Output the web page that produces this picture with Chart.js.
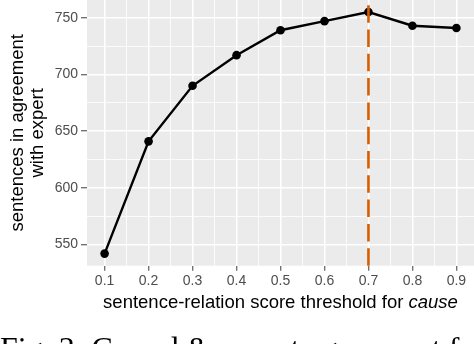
<!DOCTYPE html>
<html>
<head>
<meta charset="utf-8">
<script src="https://cdn.jsdelivr.net/npm/chart.js@4"></script>
<style>
body { margin: 0; background: #fff; }
#wrap { position: relative; width: 474px; height: 344px; }
</style>
</head>
<body>
<div id="wrap"><canvas id="lineChart"></canvas></div>
<script>
var thresholds = [0.1, 0.2, 0.3, 0.4, 0.5, 0.6, 0.7, 0.8, 0.9];
var agreement = [542, 641, 690, 717, 739, 747, 755, 743, 741];
var chosenThreshold = 0.7;

var xTicks = [0.1, 0.2, 0.3, 0.4, 0.5, 0.6, 0.7, 0.8, 0.9];
var xTickLabels = ['0.1', '0.2', '0.3', '0.4', '0.5', '0.6', '0.7', '0.8', '0.9'];
var xMinorTicks = [0.15, 0.25, 0.35, 0.45, 0.55, 0.65, 0.75, 0.85];
var yTicks = [550, 600, 650, 700, 750];
var yTickLabels = ['550', '600', '650', '700', '750'];
var yMinorTicks = [575, 625, 675, 725];

var yTitle = ['sentences in agreement', 'with expert'];
var xTitle = 'sentence-relation score threshold for ';
var xTitleItalic = 'cause';
var caption = 'Fig. 3: Crowd & expert agreement for cause relation';

var FONT = "'Liberation Sans', Arial, sans-serif";

// ggplot style 5% expansion of the data range
var xLo = Math.min.apply(null, thresholds), xHi = Math.max.apply(null, thresholds);
var yLo = Math.min.apply(null, agreement), yHi = Math.max.apply(null, agreement);
var xPad = (xHi - xLo) * 0.05, yPad = (yHi - yLo) * 0.05;

function isMajor(list, v) {
    return list.some(function (m) { return Math.abs(m - v) < 1e-6; });
}
function labelFor(list, labels, v) {
    for (var i = 0; i < list.length; i++) {
        if (Math.abs(list[i] - v) < 1e-6) return labels[i];
    }
    return '';
}

var panelBg = {
    id: 'panelBg',
    beforeDraw: function (chart) {
        var a = chart.chartArea, ctx = chart.ctx;
        ctx.save();
        ctx.fillStyle = '#EBEBEB';
        ctx.fillRect(a.left, a.top, a.right - a.left, a.bottom - a.top);
        ctx.restore();
    }
};

var thresholdLine = {
    id: 'thresholdLine',
    afterDatasetsDraw: function (chart) {
        var a = chart.chartArea, ctx = chart.ctx;
        var x = chart.scales.x.getPixelForValue(chosenThreshold);
        ctx.save();
        ctx.strokeStyle = '#D55E00';
        ctx.lineWidth = 2.6;
        ctx.setLineDash([17.5, 6.8]);
        ctx.beginPath();
        ctx.moveTo(x, a.bottom);
        ctx.lineTo(x, a.top);
        ctx.stroke();
        ctx.restore();
    }
};

var texts = {
    id: 'texts',
    afterDraw: function (chart) {
        var a = chart.chartArea, ctx = chart.ctx;
        ctx.save();
        ctx.fillStyle = '#000';
        ctx.textBaseline = 'alphabetic';
        ctx.font = '18.5px ' + FONT;
        var w1 = ctx.measureText(xTitle).width;
        ctx.font = 'italic 18.5px ' + FONT;
        var w2 = ctx.measureText(xTitleItalic).width;
        var x0 = (a.left + a.right) / 2 - (w1 + w2) / 2;
        ctx.font = '18.5px ' + FONT;
        ctx.fillText(xTitle, x0, a.bottom + 42);
        ctx.font = 'italic 18.5px ' + FONT;
        ctx.fillText(xTitleItalic, x0 + w1, a.bottom + 42);
        ctx.font = "32px 'Liberation Serif', 'Times New Roman', serif";
        ctx.fillText(caption, 0, 359);
        ctx.restore();
    }
};

var ctx = document.getElementById('lineChart').getContext('2d');
var myChart = new Chart(ctx, {
    type: 'line',
    data: {
        datasets: [{
            data: thresholds.map(function (t, i) { return { x: t, y: agreement[i] }; }),
            borderColor: '#000',
            backgroundColor: '#000',
            borderWidth: 2.4,
            pointRadius: 4.3,
            pointBorderWidth: 0,
            pointBackgroundColor: '#000',
            tension: 0
        }]
    },
    options: {
        responsive: true,
        maintainAspectRatio: false,
        animation: false,
        layout: { autoPadding: false, padding: { left: 0, right: 0, top: 0, bottom: 52.5 } },
        plugins: {
            legend: { display: false },
            tooltip: { enabled: false }
        },
        scales: {
            x: {
                type: 'linear',
                bounds: 'data',
                min: xLo - xPad,
                max: xHi + xPad,
                afterBuildTicks: function (scale) {
                    scale.ticks = xTicks.concat(xMinorTicks).map(function (v) { return { value: v }; });
                },
                afterFit: function (scale) {
                    scale.paddingLeft = 0;
                    scale.paddingRight = 0;
                },
                border: { display: false },
                grid: {
                    color: '#fff',
                    lineWidth: function (c) { return isMajor(xTicks, c.tick.value) ? 1.5 : 0.8; },
                    tickColor: function (c) { return isMajor(xTicks, c.tick.value) ? '#4D4D4D' : 'rgba(0,0,0,0)'; },
                    tickWidth: 1.1,
                    tickLength: 5
                },
                ticks: {
                    autoSkip: false,
                    maxRotation: 0,
                    padding: 2,
                    color: '#4D4D4D',
                    font: { family: FONT, size: 14 },
                    callback: function (v) { return labelFor(xTicks, xTickLabels, v); }
                }
            },
            y: {
                type: 'linear',
                bounds: 'data',
                min: yLo - yPad,
                max: yHi + yPad,
                afterBuildTicks: function (scale) {
                    scale.ticks = yTicks.concat(yMinorTicks).map(function (v) { return { value: v }; });
                },
                afterFit: function (scale) {
                    scale.width = 87;
                    scale.paddingTop = 0;
                    scale.paddingBottom = 0;
                },
                border: { display: false },
                grid: {
                    color: '#fff',
                    lineWidth: function (c) { return isMajor(yTicks, c.tick.value) ? 1.5 : 0.8; },
                    tickColor: function (c) { return isMajor(yTicks, c.tick.value) ? '#4D4D4D' : 'rgba(0,0,0,0)'; },
                    tickWidth: 1.1,
                    tickLength: 6
                },
                ticks: {
                    autoSkip: false,
                    padding: 3,
                    color: '#4D4D4D',
                    font: { family: FONT, size: 14 },
                    callback: function (v) { return labelFor(yTicks, yTickLabels, v); }
                },
                title: {
                    display: true,
                    text: yTitle,
                    color: '#000',
                    font: { family: FONT, size: 18.5, lineHeight: 1.08 },
                    padding: { top: 8, bottom: 0 }
                }
            }
        }
    },
    plugins: [panelBg, thresholdLine, texts]
});
</script>
</body>
</html>
